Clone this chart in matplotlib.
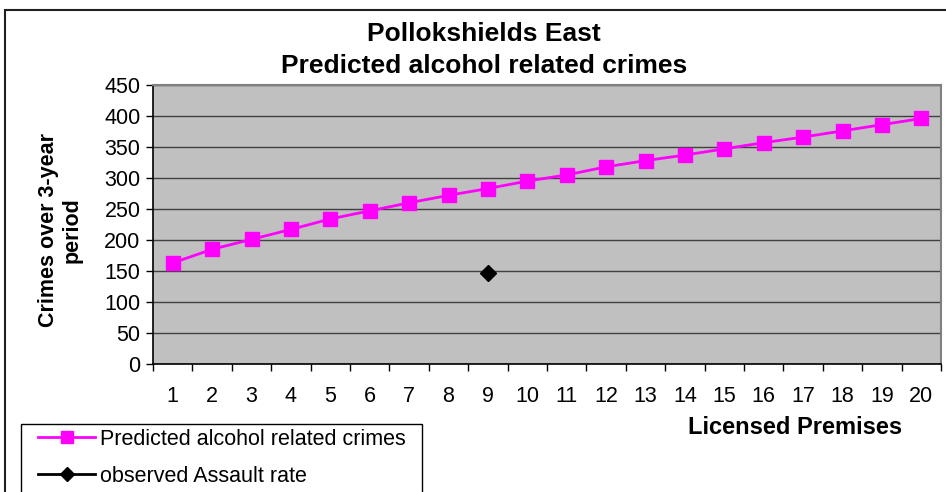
import matplotlib
matplotlib.use('Agg')
import matplotlib.pyplot as plt
from matplotlib.patches import Rectangle

plt.rcParams['font.family'] = ['Liberation Sans', 'DejaVu Sans']

# Data
premises = list(range(1, 21))
predicted = [163, 185, 201, 217, 234, 247, 260, 272, 283, 295,
             305, 318, 328, 337, 347, 357, 366, 376, 386, 396]
observed_x = [9]
observed = [146]

fig = plt.figure(figsize=(9.46, 4.92), dpi=100)
fig.patch.set_facecolor('white')

# outer chart border (left and top edges visible in the reference)
fig.add_artist(Rectangle((5 / 946, -0.1), 1.2, (492 - 10) / 492 + 0.1,
                         transform=fig.transFigure, fill=False,
                         edgecolor='#202020', linewidth=1.5))

ax = fig.add_axes([153 / 946, (492 - 364) / 492, (941 - 153) / 946, (364 - 85) / 492])
ax.set_facecolor('#C0C0C0')

ax.plot(premises, predicted, color='#FF00FF', linewidth=2, marker='s',
        markersize=10, label='Predicted alcohol related crimes', zorder=3)
ax.plot(observed_x, observed, color='black', linewidth=2, marker='D',
        markersize=8, label='observed Assault rate', zorder=3)

ax.set_xlim(0.5, 20.5)
ax.set_ylim(0, 450)
ax.set_yticks(range(0, 451, 50))
ax.set_xticks(premises)
ax.set_xticks([i + 0.5 for i in range(0, 21)], minor=True)
ax.tick_params(axis='x', which='major', length=0, labelsize=15.5, pad=16)
ax.tick_params(axis='x', which='minor', length=5, width=1, direction='out')
ax.tick_params(axis='y', length=5, width=1, direction='out', labelsize=15.5, pad=4)
ax.yaxis.grid(True, color='#404040', linewidth=1)
ax.set_axisbelow(True)

for s in ['top', 'right']:
    ax.spines[s].set_color('#808080')
    ax.spines[s].set_linewidth(1.5)
for s in ['left', 'bottom']:
    ax.spines[s].set_color('black')
    ax.spines[s].set_linewidth(1.2)

fig.text(484 / 946, 1 - 34 / 492, 'Pollokshields East', ha='center', va='center',
         fontsize=19, fontweight='bold')
fig.text(484 / 946, 1 - 66 / 492, 'Predicted alcohol related crimes', ha='center',
         va='center', fontsize=19, fontweight='bold')

fig.text(60 / 946, 1 - 230 / 492, 'Crimes over 3-year\nperiod', ha='center',
         va='center', rotation=90, fontsize=15.5, fontweight='bold', linespacing=1.15)
fig.text(795 / 946, 1 - 428 / 492, 'Licensed Premises', ha='center', va='center',
         fontsize=17, fontweight='bold')

# legend box (cut off at the bottom of the picture)
fig.add_artist(Rectangle((21 / 946, -0.1), (422 - 21) / 946, (492 - 424) / 492 + 0.1,
                         transform=fig.transFigure, fill=True, facecolor='white',
                         edgecolor='black', linewidth=1))
leg = fig.legend(loc='upper left', bbox_to_anchor=(38 / 946, 1 - 429 / 492),
                 frameon=False, fontsize=15.5, handlelength=2.65,
                 handletextpad=0.25, borderpad=0, labelspacing=0.72,
                 borderaxespad=0, markerscale=0.85)

fig.savefig('out.png', dpi=100)
